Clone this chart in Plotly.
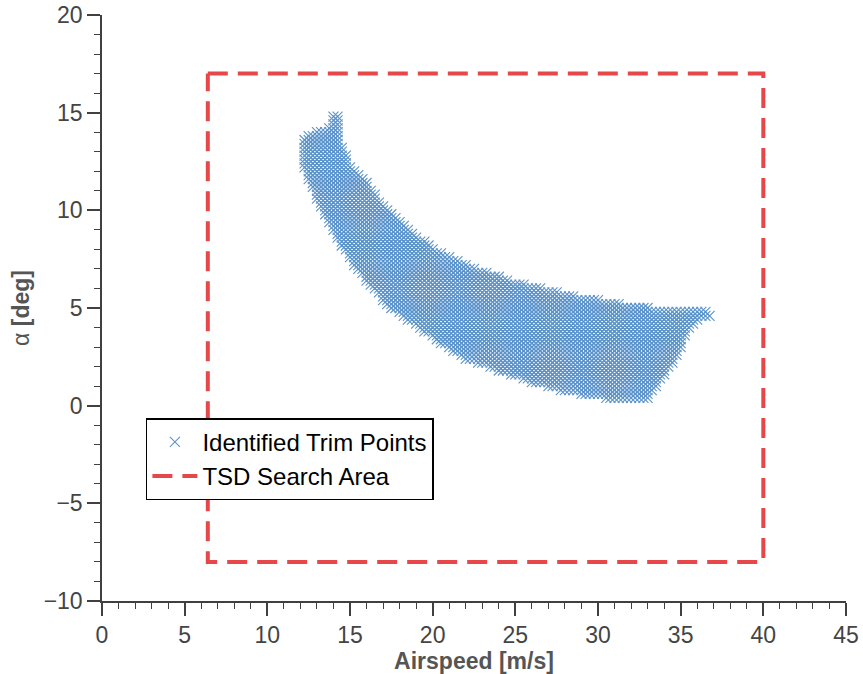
import numpy as np
import plotly.graph_objects as go

# ---- data ----
# envelope of the identified trim-point grid (marker centres), per airspeed knot
speed_knots = [12.25, 12.5, 13.0, 13.5, 13.75, 14.0, 14.25, 14.5, 15.0, 15.5, 16.0, 16.5,
               17.0, 17.5, 18.0, 19.0, 20.0, 21.0, 22.0, 23.0, 24.0, 25.0, 26.0, 27.0,
               28.0, 29.0, 30.0, 31.0, 32.0, 33.0, 33.5, 34.0, 34.5, 35.0, 35.5, 36.0,
               36.5, 37.0]
alpha_hi_knots = [13.6, 13.8, 14.0, 14.0, 14.2, 14.8, 14.8, 13.3, 12.3, 11.8, 11.4, 10.8,
                  10.3, 9.9, 9.5, 8.7, 8.1, 7.6, 7.2, 6.9, 6.6, 6.3, 6.1, 5.9,
                  5.7, 5.5, 5.4, 5.25, 5.1, 5.0, 4.95, 4.9, 4.9, 4.85, 4.85, 4.8,
                  4.8, 4.7]
alpha_lo_knots = [12.2, 11.5, 10.6, 9.7, 9.3, 8.9, 8.5, 8.2, 7.5, 6.9, 6.4, 5.9,
                  5.4, 5.0, 4.7, 4.1, 3.5, 2.9, 2.4, 2.1, 1.8, 1.5, 1.2, 0.95,
                  0.75, 0.6, 0.45, 0.35, 0.35, 0.4, 1.0, 1.6, 2.2, 3.0, 3.9, 4.4,
                  4.5, 4.7]
speed_step = 0.25   # grid spacing of the trim search [m/s]
alpha_step = 0.2    # grid spacing of the trim search [deg]

# TSD search area bounds
search_speed = [6.4, 40.0]
search_alpha = [-8.0, 17.0]

# ---- build trim-point grid inside the envelope ----
trim_v, trim_a = [], []
cols = np.arange(speed_knots[0], speed_knots[-1] + 1e-9, speed_step)
los = np.interp(cols, speed_knots, alpha_lo_knots)
his = np.interp(cols, speed_knots, alpha_hi_knots)
for v, lo, hi in zip(cols, los, his):
    a0 = np.ceil(lo / alpha_step - 1e-9) * alpha_step
    for a in np.arange(a0, hi + 1e-9, alpha_step):
        trim_v.append(float(v))
        trim_a.append(float(a))

rect_x = [search_speed[0], search_speed[1], search_speed[1], search_speed[0], search_speed[0]]
rect_y = [search_alpha[1], search_alpha[1], search_alpha[0], search_alpha[0], search_alpha[1]]

FONT = "Liberation Sans, Arial, sans-serif"
AX = "#404040"
BLUE = "#5b93cc"

fig = go.Figure()
fig.add_trace(go.Scatter(
    x=trim_v, y=trim_a, mode="markers", name="Identified Trim Points",
    marker=dict(symbol="x-thin-open", size=10, color=BLUE,
                line=dict(width=1.1, color=BLUE)),
))
fig.add_trace(go.Scatter(
    x=rect_x, y=rect_y, mode="lines", name="TSD Search Area",
    line=dict(color="#e8474a", width=4, dash="20px,10px"),
))

axis_common = dict(
    showline=True, linecolor=AX, linewidth=1.5,
    ticks="outside", ticklen=13, tickwidth=1.5, tickcolor=AX,
    showgrid=False, zeroline=False, mirror=False, automargin=False,
    tickfont=dict(family=FONT, size=23, color="#444444"),
    minor=dict(ticks="outside", ticklen=6, tickwidth=1.2, tickcolor=AX, dtick=1, showgrid=False),
)

fig.update_layout(
    width=863, height=674,
    margin=dict(l=102, r=17, t=15, b=73),
    plot_bgcolor="white", paper_bgcolor="white",
    font=dict(family=FONT, size=23, color="#444444"),
    xaxis=dict(range=[0, 45], dtick=5, tick0=0,
               title=dict(text="<b>Airspeed [m/s]</b>", standoff=2,
                          font=dict(family=FONT, size=23, color="#555555")),
               **axis_common),
    yaxis=dict(range=[-10, 20], dtick=5, tick0=0,
               title=dict(text="α <b>[deg]</b>", standoff=8,
                          font=dict(family=FONT, size=23, color="#555555")),
               **axis_common),
    legend=dict(x=0.059, y=0.312, xanchor="left", yanchor="top",
                bgcolor="white", bordercolor="black", borderwidth=1.5,
                font=dict(family=FONT, size=24, color="black"),
                itemwidth=45, tracegroupgap=0),
    showlegend=True,
)

fig.write_html("out.html")
